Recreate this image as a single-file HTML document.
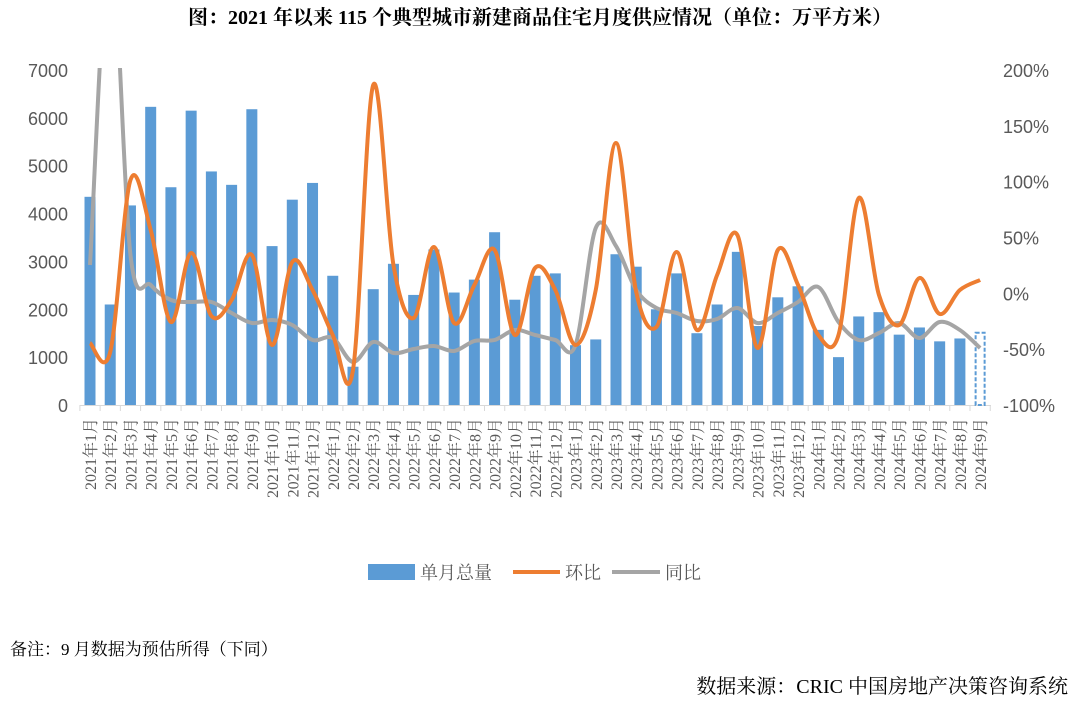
<!DOCTYPE html>
<html><head><meta charset="utf-8"><style>
body{margin:0;background:#fff;width:1080px;height:697px;overflow:hidden;font-family:"Liberation Serif","Noto Serif CJK SC",serif}
</style></head><body>
<svg id="s" width="1080" height="697" xmlns="http://www.w3.org/2000/svg" font-family="'Liberation Serif','Noto Serif CJK SC',serif">
<text x="540" y="24" text-anchor="middle" font-size="20" font-weight="bold" fill="#000">图：2021 年以来 115 个典型城市新建商品住宅月度供应情况（单位：万平方米）</text>
<defs><clipPath id="c"><rect x="75" y="68" width="920" height="340"/></clipPath></defs>
<g id="g"></g>
<rect x="368" y="564" width="47" height="16" fill="#5b9bd5"/>
<text x="420" y="579" font-size="18" fill="#595959">单月总量</text>
<line x1="513" y1="572" x2="560" y2="572" stroke="#ed7d31" stroke-width="4"/>
<text x="565" y="579" font-size="18" fill="#595959">环比</text>
<line x1="612" y1="572" x2="660" y2="572" stroke="#a5a5a5" stroke-width="4"/>
<text x="665" y="579" font-size="18" fill="#595959">同比</text>
<text x="10" y="655" font-size="17" fill="#000">备注：9 月数据为预估所得（下同）</text>
<text x="1068" y="693" text-anchor="end" font-size="20" fill="#000">数据来源：CRIC 中国房地产决策咨询系统</text>
</svg>
<script>
var g=document.getElementById('g'),h='';
var bars=[4350,2100,4170,6230,4550,6150,4880,4600,6180,3320,4290,4640,2700,800,2420,2950,2300,3250,2350,2620,3610,2200,2700,2750,1250,1370,3150,2890,2000,2750,1500,2100,3200,1650,2250,2480,1570,1000,1850,1940,1470,1620,1330,1390,1530];
var hb=[343,352,180,230,322,253,316,300,255,345,262,290,335,370,85,265,318,247,323,285,250,335,268,290,345,290,143,292,327,252,330,275,235,348,250,285,335,335,198,295,325,278,314,290,280];
var tb=[265,-60,255,285,300,302,302,313,323,320,325,340,338,362,342,353,349,346,351,341,340,330,335,340,345,228,246,290,308,313,321,319,308,323,313,302,287,322,340,333,323,338,322,330,348];
function X(i){return 90+20.23*i}
for(var v=0;v<=7;v++){var y=405-v*1000*0.04786;h+='<text x="68" y="'+(y+7)+'" text-anchor="end" font-size="18" fill="#595959" font-family="Liberation Sans,sans-serif">'+(v*1000)+'</text>';}
var pl=['200%','150%','100%','50%','0%','-50%','-100%'];
for(var k=0;k<7;k++){var y=70+k*55.83;h+='<text x="1003" y="'+(y+7)+'" font-size="18" fill="#595959" font-family="Liberation Sans,sans-serif">'+pl[k]+'</text>';}
h+='<line x1="80" y1="405.5" x2="991" y2="405.5" stroke="#d9d9d9"/>';
for(var i=0;i<=45;i++){var x=X(i)-10.1;h+='<line x1="'+x+'" y1="405" x2="'+x+'" y2="411" stroke="#d9d9d9"/>';}
for(var i=0;i<45;i++){var bh=bars[i]*0.04786,x=X(i)-5.5;
 if(i==44)h+='<rect x="'+(x+1)+'" y="'+(405-bh+1)+'" width="9" height="'+(bh-1)+'" fill="#fff" stroke="#5b9bd5" stroke-width="2" stroke-dasharray="4,2"/>';
 else h+='<rect x="'+x+'" y="'+(405-bh)+'" width="11" height="'+bh+'" fill="#5b9bd5"/>';
 var yr=2021+Math.floor(i/12),m=i%12+1;
 h+='<text transform="translate('+(X(i)+6)+',418) rotate(-90)" text-anchor="end" font-size="16" fill="#595959">'+yr+'年'+m+'月</text>';}
function path(a){var p=a.map(function(y,i){return [X(i),y]});var d='M'+p[0][0]+','+p[0][1];
 for(var i=0;i<p.length-1;i++){var p0=p[i-1]||p[i],p1=p[i],p2=p[i+1],p3=p[i+2]||p2,t=6;
 d+=' C'+(p1[0]+(p2[0]-p0[0])/t)+','+(p1[1]+(p2[1]-p0[1])/t)+' '+(p2[0]-(p3[0]-p1[0])/t)+','+(p2[1]-(p3[1]-p1[1])/t)+' '+p2[0]+','+p2[1];}return d;}
h+='<g clip-path="url(#c)"><path d="'+path(tb)+'" fill="none" stroke="#a5a5a5" stroke-width="4"/><path d="'+path(hb)+'" fill="none" stroke="#ed7d31" stroke-width="4"/></g>';
g.innerHTML=h;
</script>
</body></html>
